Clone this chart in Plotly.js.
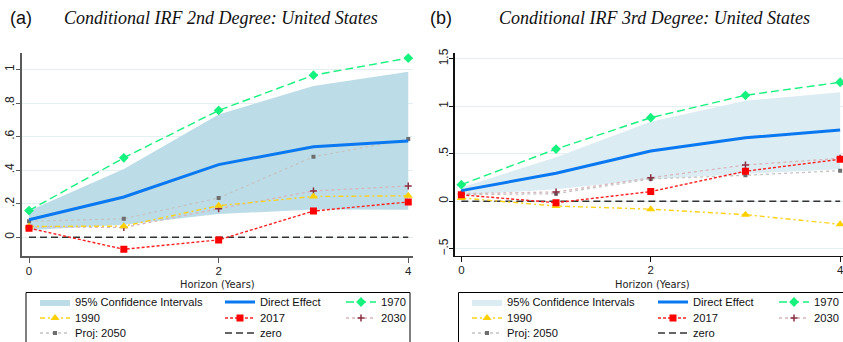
<!DOCTYPE html>
<html>
<head>
<meta charset="utf-8">
<script src="https://cdn.plot.ly/plotly-3.0.1.min.js"></script>
<style>html,body{margin:0;padding:0;background:#fff;}</style>
</head>
<body>
<div id="chart" style="width:843px;height:342px;"></div>
<script>
// Horizon (years) shared by both panels
const horizon = [0, 1, 2, 3, 4];

// Panel (a): conditional IRF, 2nd degree
const a_direct = [0.104, 0.240, 0.433, 0.539, 0.573];
const a_ciLow  = [0.042, 0.074, 0.138, 0.165, 0.163];
const a_ciHigh = [0.158, 0.407, 0.732, 0.902, 0.986];
const a_y1970  = [0.159, 0.473, 0.756, 0.966, 1.068];
const a_y1990  = [0.064, 0.066, 0.188, 0.243, 0.247];
const a_y2017  = [0.054, -0.072, -0.016, 0.156, 0.210];
const a_y2030  = [0.062, 0.058, 0.170, 0.276, 0.305];
const a_y2050  = [0.095, 0.110, 0.234, 0.479, 0.585];

// Panel (b): conditional IRF, 3rd degree
const b_direct = [0.112, 0.295, 0.529, 0.669, 0.750];
const b_ciLow  = [0.066, 0.126, 0.232, 0.290, 0.337];
const b_ciHigh = [0.145, 0.463, 0.838, 1.059, 1.147];
const b_y1970  = [0.175, 0.550, 0.880, 1.116, 1.253];
const b_y1990  = [0.035, -0.050, -0.083, -0.141, -0.242];
const b_y2017  = [0.068, -0.015, 0.102, 0.316, 0.442];
const b_y2030  = [0.080, 0.098, 0.248, 0.382, 0.452];
const b_y2050  = [0.070, 0.080, 0.235, 0.274, 0.322];

const zeroLine = [0, 0, 0, 0, 0];

// Tick labels
const xTicks = [0, 2, 4];
const xTickText = ['0', '2', '4'];
const a_yTicks = [0, 0.2, 0.4, 0.6, 0.8, 1];
const a_yTickText = ['0', '.2', '.4', '.6', '.8', '1'];
const b_yTicks = [-0.5, 0, 0.5, 1, 1.5];
const b_yTickText = ['\u2212.5', '0', '.5', '1', '1.5'];

// Legend labels
const names = {
  ci: '95% Confidence Intervals', direct: 'Direct Effect', y1970: '1970',
  y1990: '1990', y2017: '2017', y2030: '2030', y2050: 'Proj: 2050', zero: 'zero'
};

const W = 843, H = 342;
const px = v => v / W;
const py = v => (H - v) / H;

function panelTraces(ax, d, ciColor, legendBase) {
  const xa = ax === 1 ? 'x' : 'x2';
  const ya = ax === 1 ? 'y' : 'y2';
  const lg = k => (legendBase + k === 1 ? 'legend' : 'legend' + (legendBase + k));
  const base = {x: horizon, xaxis: xa, yaxis: ya, type: 'scatter', hoverinfo: 'skip'};
  return [
    Object.assign({}, base, {y: d.ciLow, mode: 'lines', line: {width: 0, color: ciColor}, showlegend: false}),
    Object.assign({}, base, {y: d.ciHigh, mode: 'lines', fill: 'tonexty', fillcolor: ciColor,
      line: {width: 0, color: ciColor}, name: names.ci, legend: lg(0)}),
    Object.assign({}, base, {y: zeroLine, mode: 'lines', line: {color: '#333', width: 1.5, dash: '7px,4px'},
      name: names.zero, legend: lg(5)}),
    Object.assign({}, base, {y: d.y2050, mode: 'lines+markers', line: {color: '#c4c4c4', width: 1.3, dash: 'dot'},
      marker: {symbol: 'square', size: 4, color: '#6e6e6e'}, name: names.y2050, legend: lg(2)}),
    Object.assign({}, base, {y: d.y2030, mode: 'lines+markers', line: {color: '#d6b5bb', width: 1.3, dash: 'dot'},
      marker: {symbol: 'cross-thin', size: 5, line: {color: '#8a2f42', width: 1.5}}, name: names.y2030, legend: lg(7)}),
    Object.assign({}, base, {y: d.y1990, mode: 'lines+markers', line: {color: '#ffd21a', width: 1.4, dash: '5px,3px,2px,3px'},
      marker: {symbol: 'triangle-up', size: 8, color: '#ffd000'}, name: names.y1990, legend: lg(1)}),
    Object.assign({}, base, {y: d.y2017, mode: 'lines+markers', line: {color: '#ff2020', width: 1.4, dash: '3px,2px'},
      marker: {symbol: 'square', size: 7, color: '#ff0000'}, name: names.y2017, legend: lg(4)}),
    Object.assign({}, base, {y: d.y1970, mode: 'lines+markers', line: {color: '#16f27e', width: 1.4, dash: '8px,4px'},
      marker: {symbol: 'diamond', size: 7.5, color: '#16f27e'}, name: names.y1970, legend: lg(6)}),
    Object.assign({}, base, {y: d.direct, mode: 'lines', line: {color: '#0a78f0', width: 3},
      name: names.direct, legend: lg(3)})
  ];
}

const traces = [].concat(
  panelTraces(1, {direct: a_direct, ciLow: a_ciLow, ciHigh: a_ciHigh, y1970: a_y1970, y1990: a_y1990,
    y2017: a_y2017, y2030: a_y2030, y2050: a_y2050}, '#bcdde7', 1),
  panelTraces(2, {direct: b_direct, ciLow: b_ciLow, ciHigh: b_ciHigh, y1970: b_y1970, y1990: b_y1990,
    y2017: b_y2017, y2030: b_y2030, y2050: b_y2050}, '#dbecf3', 9)
);

// Legend cells: label start (px) per column and row centre (px), per panel
const legendCols = [[76, 261, 382], [508, 694, 815]];
const legendRows = [302, 318, 333];
// slot index -> [col, row]
const slots = [[0, 0], [0, 1], [0, 2], [1, 0], [1, 1], [1, 2], [2, 0], [2, 1]];

const axisTitleFont = {size: 11, color: '#222',
  family: 'Liberation Sans Narrow, DejaVu Sans Condensed, Arial Narrow, sans-serif'};

const layout = {
  width: W, height: H,
  margin: {l: 0, r: 0, t: 0, b: 0, autoexpand: false},
  paper_bgcolor: '#fff', plot_bgcolor: '#fff',
  font: {family: 'Liberation Sans, Arial, sans-serif', color: '#222', size: 12},
  showlegend: true,
  xaxis: {
    domain: [px(22), px(413)], range: [-0.074, 4.05], anchor: 'y',
    tickvals: xTicks, ticktext: xTickText, ticks: 'outside', ticklen: 5, tickcolor: '#5a5a5a',
    showline: true, linecolor: '#5a5a5a', linewidth: 2, showgrid: false, zeroline: false,
    tickfont: {size: 11.5}, ticklabelstandoff: -2, automargin: false, ticklabeloverflow: 'allow'
  },
  yaxis: {
    domain: [py(256), py(52.7)], range: [-0.112, 1.10], anchor: 'x',
    tickvals: a_yTicks, ticktext: a_yTickText, ticks: 'outside', ticklen: 4, tickcolor: '#5a5a5a',
    tickangle: -90, ticklabelstandoff: -3, showline: true, linecolor: '#5a5a5a', linewidth: 2, automargin: false,
    showgrid: true, gridcolor: '#e4eff2', gridwidth: 1, zeroline: false, tickfont: {size: 12}
  },
  xaxis2: {
    domain: [px(454.7), 1], range: [-0.07, 4.03], anchor: 'y2',
    tickvals: xTicks, ticktext: xTickText, ticks: 'outside', ticklen: 5, tickcolor: '#111',
    showline: true, linecolor: '#111', linewidth: 1.3, showgrid: false, zeroline: false,
    tickfont: {size: 11.5}, ticklabelstandoff: -2, automargin: false, ticklabeloverflow: 'allow'
  },
  yaxis2: {
    domain: [py(256), py(52.7)], range: [-0.576, 1.564], anchor: 'x2',
    tickvals: b_yTicks, ticktext: b_yTickText, ticks: 'outside', ticklen: 4, tickcolor: '#111',
    tickangle: -90, ticklabelstandoff: -3, showline: true, linecolor: '#111', linewidth: 1.3, automargin: false,
    showgrid: true, gridcolor: '#e4eff2', gridwidth: 1, zeroline: false, tickfont: {size: 12}
  },
  shapes: [
    {type: 'rect', xref: 'paper', yref: 'paper', x0: px(26), x1: px(410), y0: py(345), y1: py(292.5),
      line: {color: '#000', width: 1}, fillcolor: 'rgba(0,0,0,0)'},
    {type: 'rect', xref: 'paper', yref: 'paper', x0: px(458.5), x1: px(848), y0: py(345), y1: py(292.5),
      line: {color: '#000', width: 1}, fillcolor: 'rgba(0,0,0,0)'}
  ],
  annotations: [
    {text: '(a)', xref: 'paper', yref: 'paper', x: px(8), y: py(18), xanchor: 'left', yanchor: 'middle',
      showarrow: false, font: {size: 18, family: 'Liberation Sans, Arial, sans-serif', color: '#111'}},
    {text: '<i>Conditional IRF 2nd Degree: United States</i>', xref: 'paper', yref: 'paper', x: px(62), y: py(18),
      xanchor: 'left', yanchor: 'middle', showarrow: false,
      font: {size: 18, family: 'Liberation Serif, DejaVu Serif, serif', color: '#111'}},
    {text: '(b)', xref: 'paper', yref: 'paper', x: px(428), y: py(18), xanchor: 'left', yanchor: 'middle',
      showarrow: false, font: {size: 18, family: 'Liberation Sans, Arial, sans-serif', color: '#111'}},
    {text: '<i>Conditional IRF 3rd Degree: United States</i>', xref: 'paper', yref: 'paper', x: px(497), y: py(18),
      xanchor: 'left', yanchor: 'middle', showarrow: false,
      font: {size: 18, family: 'Liberation Serif, DejaVu Serif, serif', color: '#111'}},
    // x-axis titles
    {text: 'Horizon (Years)', xref: 'x domain', yref: 'paper', x: 0.5, y: py(284), xanchor: 'center', yanchor: 'middle',
      showarrow: false, font: axisTitleFont},
    {text: 'Horizon (Years)', xref: 'paper', yref: 'paper', x: px(652), y: py(284), xanchor: 'center', yanchor: 'middle',
      showarrow: false, font: axisTitleFont}
  ]
};

// One single-entry legend per cell so the columns sit where they should;
// the entry label starts 40px right of the legend's left edge
for (let p = 0; p < 2; p++) {
  for (let k = 0; k < slots.length; k++) {
    const idx = p * 8 + k + 1;
    const key = idx === 1 ? 'legend' : 'legend' + idx;
    const [c, r] = slots[k];
    layout[key] = {
      x: px(legendCols[p][c] - 41), y: py(legendRows[r]), xref: 'paper', yref: 'paper',
      xanchor: 'left', yanchor: 'middle', bgcolor: 'rgba(0,0,0,0)', borderwidth: 0,
      font: {size: 11.2, family: 'Liberation Sans, Arial, sans-serif', color: '#111'},
      orientation: 'v', itemclick: false, itemdoubleclick: false
    };
  }
}

Plotly.newPlot('chart', traces, layout, {displayModeBar: false, staticPlot: true});
</script>
</body>
</html>
